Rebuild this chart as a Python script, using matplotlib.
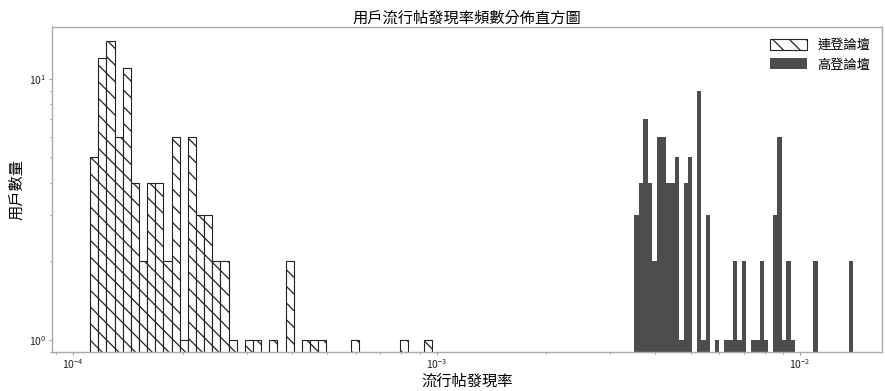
from __future__ import annotations
import numpy as np
import matplotlib
matplotlib.use("Agg")
import matplotlib.pyplot as plt

# 連登論壇: log-bins between these two rates
LIHKG_RANGE = (1.114e-4, 9.72e-4)
LIHKG_COUNTS = [5, 12, 14, 6, 11, 4, 2, 4, 4, 2, 6, 1, 6, 3, 3, 2, 2, 1, 0, 1,
                1, 0, 1, 0, 2, 0, 1, 1, 1, 0, 0, 0, 1, 0, 0, 0, 0, 0, 1, 0,
                0, 1]

# 高登論壇
HKG_RANGE = (3.50e-3, 1.402e-2)
HKG_COUNTS = [3, 4, 7, 4, 2, 6, 6, 4, 4, 5, 1, 4, 5, 0, 9, 1, 3, 0, 1, 0,
              1, 1, 2, 1, 2, 0, 1, 1, 2, 1, 0, 3, 6, 1, 2, 1, 0, 0, 0, 0,
              2, 0, 0, 0, 0, 0, 0, 0, 2]

LABELS = ["連登論壇", "高登論壇"]
TITLE = "用戶流行帖發現率頻數分佈直方圖"
XLABEL = "流行帖發現率"
YLABEL = "用戶數量"

plt.rcParams["font.family"] = ["Noto Sans CJK TC", "DejaVu Sans"]
plt.rcParams["mathtext.fontset"] = "custom"
plt.rcParams["mathtext.rm"] = "Liberation Sans"
plt.rcParams["mathtext.it"] = "Liberation Sans:italic"
plt.rcParams["mathtext.bf"] = "Liberation Sans:bold"
plt.rcParams["hatch.linewidth"] = 0.9


def log_edges(lo: float, hi: float, n: int) -> np.ndarray:
    return np.logspace(np.log10(lo), np.log10(hi), n + 1)


def main() -> None:
    fig = plt.figure(figsize=(8.85, 3.91), dpi=100)
    ax = fig.add_axes([0.0588, 0.0997, 0.9378, 0.8313])

    e1 = log_edges(*LIHKG_RANGE, len(LIHKG_COUNTS))
    e2 = log_edges(*HKG_RANGE, len(HKG_COUNTS))

    ax.hist(e1[:-1], bins=e1, weights=LIHKG_COUNTS, facecolor="white",
            edgecolor="#222222", linewidth=0.8, hatch="\\\\", label=LABELS[0])
    ax.hist(e2[:-1], bins=e2, weights=HKG_COUNTS, color="#4d4d4d",
            label=LABELS[1])

    ax.set_xscale("log")
    ax.set_yscale("log")
    ax.set_xlim(8.75e-5, 1.68e-2)
    ax.set_ylim(0.9, 15.8)

    for s in ax.spines.values():
        s.set_color("#aaaaaa")
        s.set_linewidth(1.0)
    ax.tick_params(which="both", colors="#888888", labelcolor="#222222",
                   labelsize=7.5, length=2, width=0.6, pad=2)
    ax.tick_params(which="minor", length=1.5)

    ax.set_title(TITLE, fontsize=11, pad=2)
    ax.set_xlabel(XLABEL, fontsize=11, labelpad=1)
    ax.set_ylabel(YLABEL, fontsize=11, labelpad=3)

    ax.legend(loc="upper right", frameon=False, fontsize=9.5,
              handlelength=2.8, handleheight=0.9, borderaxespad=0.5,
              labelspacing=0.5, handletextpad=0.8)

    fig.savefig("out.png", dpi=100)


if __name__ == "__main__":
    main()
